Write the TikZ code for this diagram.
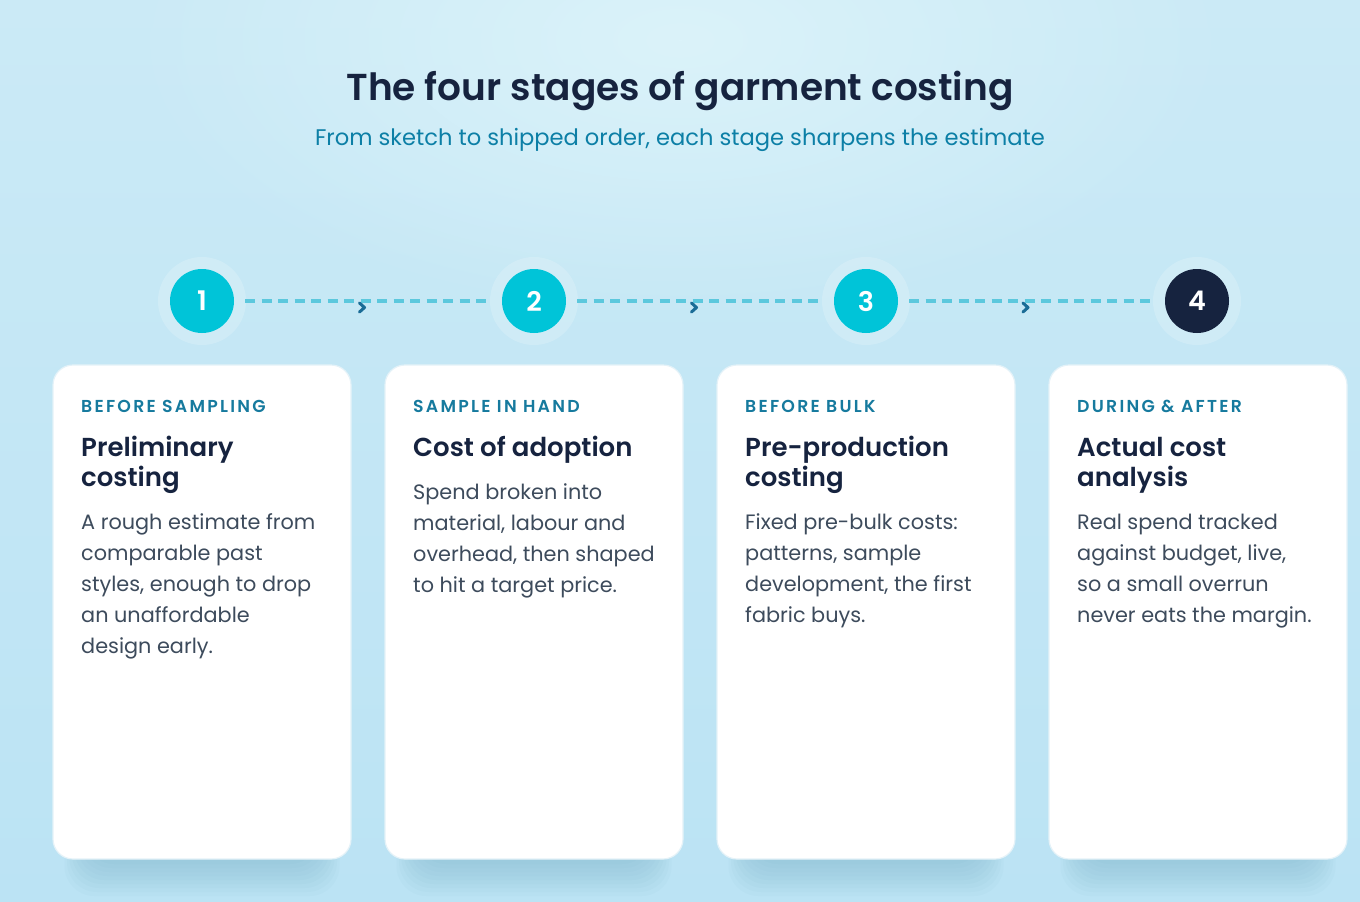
\documentclass[tikz,border=0pt]{standalone}
\usepackage{fontspec}
\setmainfont{Poppins}
\newfontfamily\semib{Poppins SemiBold}
\usetikzlibrary{calc,fadings}
\definecolor{bgtop}{HTML}{CBEAF6}
\definecolor{bgbot}{HTML}{BBE3F4}
\definecolor{glowc}{HTML}{DBF3FA}
\definecolor{navy}{HTML}{16233F}
\definecolor{subteal}{HTML}{0C7FA6}
\definecolor{cyanc}{HTML}{00C4D8}
\definecolor{dashc}{HTML}{5CC8DD}
\definecolor{chev}{HTML}{1A6C96}
\definecolor{labelc}{HTML}{167A9E}
\definecolor{bodyc}{HTML}{3D4B5C}
\definecolor{cardedge}{HTML}{E4F2F8}
\definecolor{shadowc}{HTML}{6FAAC2}
\tikzfading[name=glowfade, inner color=transparent!0, outer color=transparent!100]
\begin{document}
\begin{tikzpicture}[x=1pt,y=-1pt,
  card/.style={draw=cardedge, line width=1.2pt, fill=white, rounded corners=20pt, minimum width=298pt, minimum height=494pt, inner sep=0pt},
  stepcirc/.style={circle, fill=cyanc, minimum size=64pt, inner sep=0pt, text=white, font=\fontsize{27}{27}\selectfont\semib},
  halo/.style={circle, fill=white, fill opacity=0.18, minimum size=88pt, inner sep=0pt},
  dashline/.style={dashc, line width=3.2pt, dash pattern=on 10pt off 6.5pt, shorten <=11pt, shorten >=11pt},
  chevron/.style={chev, line width=3pt, line cap=round, line join=round},
  lbl/.style={anchor=base west, inner sep=0pt, text=labelc, font=\fontsize{17.3}{18}\selectfont\semib\addfontfeatures{LetterSpace=13}},
  head/.style={anchor=base west, inner sep=0pt, text=navy, font=\fontsize{26}{30}\selectfont\semib},
  body/.style={anchor=base west, inner sep=0pt, text=bodyc, font=\fontsize{20.8}{31}\selectfont}
]
\useasboundingbox (0,0) rectangle (1360,902);
\shade[top color=bgtop, bottom color=bgbot] (0,0) rectangle (1360,902);
\fill[glowc, path fading=glowfade] (680,40) ellipse (560 and 280);

% title
\node[inner sep=0pt, anchor=base, text=navy, font=\fontsize{37.5}{40}\selectfont\semib] (title) at (680,100) {The four stages of garment costing};
\node[inner sep=0pt, anchor=base, text=subteal, font=\fontsize{22.6}{24}\selectfont] (subtitle) at (680,145) {From sketch to shipped order, each stage sharpens the estimate};

% card shadows
\foreach \i in {0,...,3}{
  \pgfmathsetmacro{\xo}{53+332*\i}
  \foreach \k in {1,...,9}{
    \fill[shadowc, opacity=0.05, rounded corners=30pt] (\xo+34-\k*2.5, 440+\k*2) rectangle (\xo+264+\k*2.5, 860+\k*4);
  }
}

% cards
\node[card] (card1) at (202,612) {};
\node[card] (card2) at (534,612) {};
\node[card] (card3) at (866,612) {};
\node[card] (card4) at (1198,612) {};

% halos and circles
\foreach \x/\n in {202/1,534/2,866/3,1197/4}{
  \node[halo] (h\n) at (\x,301) {};
}
\node[stepcirc] (c1) at (202,301) {1};
\node[stepcirc] (c2) at (534,301) {2};
\node[stepcirc] (c3) at (866,301) {3};
\node[stepcirc, fill=navy] (c4) at (1197,301) {4};

% connectors
\draw[dashline] (c1) -- (c2);
\draw[dashline] (c2) -- (c3);
\draw[dashline] (c3) -- (c4);
\foreach \a/\b in {c1/c2,c2/c3,c3/c4}{
  \coordinate (m\a) at ($(\a)!0.5!(\b)+(-6,0)$);
  \draw[chevron] ($(m\a)+(-2.5,2)$) -- ($(m\a)+(2.5,6.5)$) -- ($(m\a)+(-2.5,11)$);
}

% card 1
\node[lbl] (l1) at (81,412) {BEFORE SAMPLING};
\node[head] (t1a) at (81,456) {Preliminary};
\node[head] (t1b) at (81,486) {costing};
\foreach \t [count=\k from 0] in {A rough estimate from, comparable past, {styles, enough to drop}, an unaffordable, design early.}{
  \node[body] (b1-\k) at (81,529+31*\k) {\t};
}
% card 2
\node[lbl] (l2) at (413,412) {SAMPLE IN HAND};
\node[head] (t2a) at (413,456) {Cost of adoption};
\foreach \t [count=\k from 0] in {Spend broken into, {material, labour and}, {overhead, then shaped}, to hit a target price.}{
  \node[body] (b2-\k) at (413,499+31*\k) {\t};
}
% card 3
\node[lbl] (l3) at (745,412) {BEFORE BULK};
\node[head] (t3a) at (745,456) {Pre-production};
\node[head] (t3b) at (745,486) {costing};
\foreach \t [count=\k from 0] in {Fixed pre-bulk costs:, {patterns, sample}, {development, the first}, fabric buys.}{
  \node[body] (b3-\k) at (745,529+31*\k) {\t};
}
% card 4
\node[lbl] (l4) at (1077,412) {DURING \& AFTER};
\node[head] (t4a) at (1077,456) {Actual cost};
\node[head] (t4b) at (1077,486) {analysis};
\foreach \t [count=\k from 0] in {Real spend tracked, {against budget, live,}, so a small overrun, never eats the margin.}{
  \node[body] (b4-\k) at (1077,529+31*\k) {\t};
}
\end{tikzpicture}
\end{document}
